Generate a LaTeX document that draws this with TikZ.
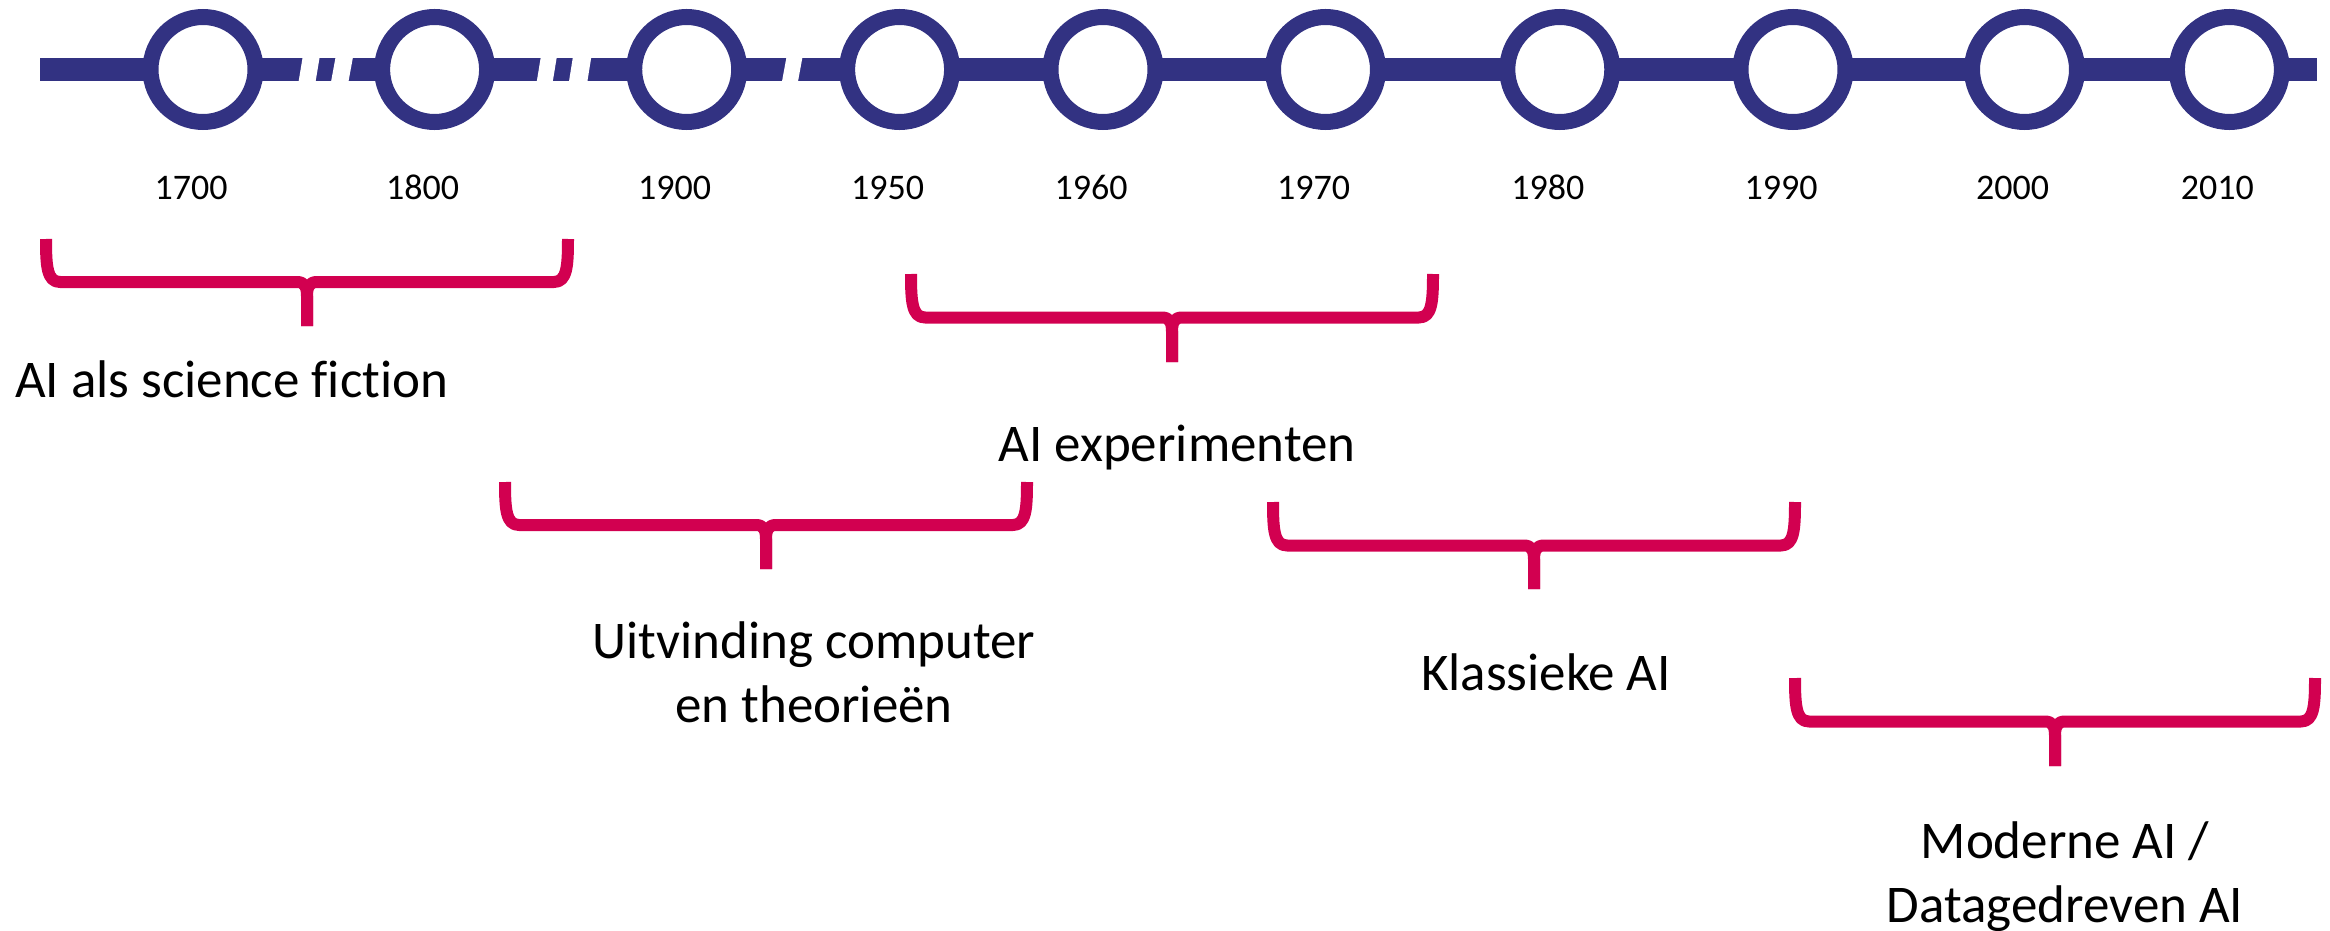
\documentclass[tikz,border=0pt]{standalone}
\usepackage{fontspec}
\setmainfont{Carlito}[Ligatures=NoCommon]
\definecolor{navy}{RGB}{50,50,130}
\definecolor{brpink}{RGB}{210,0,80}
\newcommand\tlbrace[6]{%
  \pgfmathsetmacro\bcx{(#2+#3)/2}%
  \draw[bracestyle] (#2,#4) .. controls (#2,#5-16) and (#2+1,#5) .. (#2+14,#5) -- (\bcx-10,#5) .. controls (\bcx-3,#5) and (\bcx,#5+4) .. (\bcx,#5+14) -- (\bcx,#6);
  \draw[bracestyle] (#3,#4) .. controls (#3,#5-16) and (#3-1,#5) .. (#3-14,#5) -- (\bcx+10,#5) .. controls (\bcx+3,#5) and (\bcx,#5+4) .. (\bcx,#5+14) -- (\bcx,#6);
  \coordinate (#1) at (\bcx,#6);
}
\begin{document}
\begin{tikzpicture}[x=1pt,y=-1pt,
  ring/.style={circle,draw=navy,fill=white,line width=16pt,minimum size=105pt,inner sep=0pt},
  year/.style={font=\fontsize{36}{43}\selectfont,anchor=base,inner sep=0pt},
  lbl/.style={font=\fontsize{53}{63.5}\selectfont,anchor=base,inner sep=0pt,align=center},
  bracestyle/.style={draw=brpink,line width=12pt,line cap=butt,line join=round},
  gap/.style={fill=white,draw=none}]
\useasboundingbox (0,0) rectangle (2330,931);
% timeline bar
\fill[navy] (40,58) rectangle (2317,81);
% slanted breaks
\fill[gap] (298.5,82) -- (302.7,57) -- (319.7,57) -- (315.5,82) -- cycle;
\fill[gap] (331,82) -- (335.6,57) -- (353,57) -- (348.4,82) -- cycle;
\fill[gap] (536.7,82) -- (540.8,57) -- (556.8,57) -- (552.7,82) -- cycle;
\fill[gap] (568.9,82) -- (572.9,57) -- (591.3,57) -- (587.3,82) -- cycle;
\fill[gap] (781.9,82) -- (786.5,57) -- (802.5,57) -- (797.9,82) -- cycle;
% circles and years
\foreach \n/\x in {1700/203,1800/434.6,1900/686.7,1950/899.6,1960/1103,1970/1325.5,1980/1559.8,1990/1793,2000/2024.5,2010/2229.4}{
  \node[ring] (c\n) at (\x,69.5) {};
  \node[year] (y\n) at (\x-12,200) {\n};
}
% braces
\tlbrace{b1}{46}{568}{239}{282}{326}
\tlbrace{b2}{911}{1433}{274}{317.5}{362}
\tlbrace{b3}{505}{1027}{482}{525}{569}
\tlbrace{b4}{1273}{1795}{502}{545.5}{589}
\tlbrace{b5}{1795}{2315}{678}{721.5}{766}
% labels
\node[lbl,anchor=base west] (t1) at (15,397) {AI als science fiction};
\node[lbl] (t2) at (1177,461) {AI experimenten};
\node[lbl] (t3) at (814,722) {Uitvinding computer\\en theorieën};
\node[lbl] (t4) at (1546,690) {Klassieke AI};
\node[lbl] (t5) at (2065,922) {Moderne AI /\\Datagedreven AI};
\end{tikzpicture}
\end{document}
